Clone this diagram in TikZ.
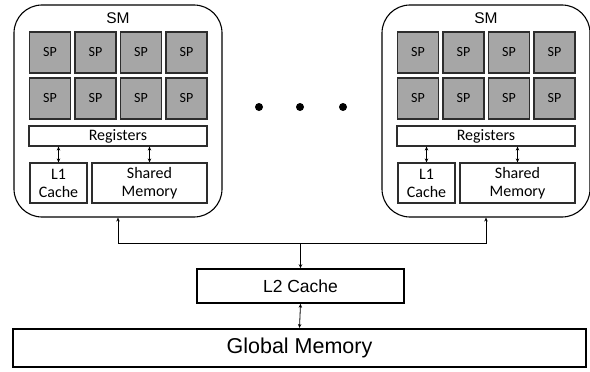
\documentclass[tikz,border=0pt]{standalone}
\usepackage{fontspec}
\setmainfont{Carlito}
\newfontfamily\arial{Liberation Sans}
\usepackage{tikz}
\usetikzlibrary{arrows.meta,positioning}
\definecolor{spgray}{RGB}{166,166,166}
\definecolor{spline}{RGB}{45,45,45}
\tikzset{
  smbox/.style={draw, line width=1.1pt, rounded corners=28pt, minimum width=208pt, minimum height=212pt, inner sep=0pt},
  spbox/.style={draw=spline, line width=1.3pt, fill=spgray, minimum width=41pt, minimum height=41pt, inner sep=0pt, font=\fontsize{14}{16}\selectfont},
  membox/.style={draw=spline, line width=1.1pt, fill=white, inner sep=0pt, align=center, font=\fontsize{16}{18}\selectfont},
  link/.style={line width=0.8pt, {Stealth[length=4pt,width=3.5pt]}-{Stealth[length=4pt,width=3.5pt]}},
  bus/.style={line width=0.8pt, -{Stealth[length=4pt,width=3.5pt]}}
}
\begin{document}
\begin{tikzpicture}[x=1pt,y=-1pt]
  \useasboundingbox (0,0) rectangle (590,372);

  %Draw left SM
  \node[smbox] (smL) at (118,111) {};
  \node[font=\arial\fontsize{15.5}{17}\selectfont] (smLlabel) at (118,18) {SM};
  \node[spbox] (spL11) at (50,52.5)    {SP};
  \node[spbox] (spL12) at (95.5,52.5)  {SP};
  \node[spbox] (spL13) at (141,52.5)   {SP};
  \node[spbox] (spL14) at (186.5,52.5) {SP};
  \node[spbox] (spL21) at (50,98.5)    {SP};
  \node[spbox] (spL22) at (95.5,98.5)  {SP};
  \node[spbox] (spL23) at (141,98.5)   {SP};
  \node[spbox] (spL24) at (186.5,98.5) {SP};
  \node[membox, minimum width=178pt, minimum height=20pt] (regL) at (118,136) {Registers};
  \node[membox, minimum width=57pt, minimum height=40pt] (l1L) at (58.5,183) {L1\\Cache};
  \node[membox, minimum width=115pt, minimum height=40pt] (shL) at (149.5,183) {Shared\\Memory};
  \draw[link] (l1L.north) -- (l1L.north |- regL.south);
  \draw[link] (shL.north) -- (shL.north |- regL.south);

  %Draw right SM
  \node[smbox] (smR) at (486,111) {};
  \node[font=\arial\fontsize{15.5}{17}\selectfont] (smRlabel) at (486,18) {SM};
  \node[spbox] (spR11) at (418,52.5)   {SP};
  \node[spbox] (spR12) at (463.5,52.5) {SP};
  \node[spbox] (spR13) at (509,52.5)   {SP};
  \node[spbox] (spR14) at (554.5,52.5) {SP};
  \node[spbox] (spR21) at (418,98.5)   {SP};
  \node[spbox] (spR22) at (463.5,98.5) {SP};
  \node[spbox] (spR23) at (509,98.5)   {SP};
  \node[spbox] (spR24) at (554.5,98.5) {SP};
  \node[membox, minimum width=178pt, minimum height=20pt] (regR) at (486,136) {Registers};
  \node[membox, minimum width=57pt, minimum height=40pt] (l1R) at (426.5,183) {L1\\Cache};
  \node[membox, minimum width=115pt, minimum height=40pt] (shR) at (517.5,183) {Shared\\Memory};
  \draw[link] (l1R.north) -- (l1R.north |- regR.south);
  \draw[link] (shR.north) -- (shR.north |- regR.south);

  %Draw dots between the SMs
  \fill (259,107) circle (4pt);
  \fill (300,107) circle (4pt);
  \fill (343,107) circle (4pt);

  %Draw L2 cache and global memory
  \node[membox, line width=1.5pt, draw=black, minimum width=207pt, minimum height=34pt, font=\arial\fontsize{17.5}{20}\selectfont] (l2) at (300.5,286) {L2 Cache};
  \node[membox, line width=2pt, draw=black, minimum width=573pt, minimum height=38pt, font=\arial\fontsize{21.5}{24}\selectfont] (gmem) at (299.5,348) {Global Memory};

  %Draw bus from L2 to the SMs
  \coordinate (busmid) at (300.5,243);
  \draw[bus] (busmid) -| (smL.south);
  \draw[bus] (busmid) -| (smR.south);
  \draw[bus] (busmid) -- (l2.north);
  \draw[link] (l2.south) -- (gmem.north);
\end{tikzpicture}
\end{document}
